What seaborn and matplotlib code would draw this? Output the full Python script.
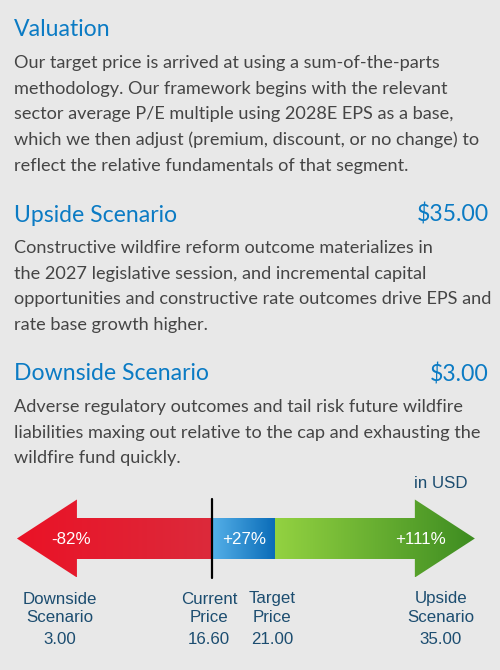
import numpy as np
import pandas as pd
import seaborn as sns
import matplotlib
matplotlib.use("Agg")
import matplotlib.pyplot as plt
from matplotlib.patches import Polygon
from matplotlib.colors import LinearSegmentedColormap

# ---------------- data ----------------
valuation_title = "Valuation"
valuation_text = [
    "Our target price is arrived at using a sum-of-the-parts",
    "methodology. Our framework begins with the relevant",
    "sector average P/E multiple using 2028E EPS as a base,",
    "which we then adjust (premium, discount, or no change) to",
    "reflect the relative fundamentals of that segment.",
]
upside_title = "Upside Scenario"
upside_value = "$35.00"
upside_text = [
    "Constructive wildfire reform outcome materializes in",
    "the 2027 legislative session, and incremental capital",
    "opportunities and constructive rate outcomes drive EPS and",
    "rate base growth higher.",
]
downside_title = "Downside Scenario"
downside_value = "$3.00"
downside_text = [
    "Adverse regulatory outcomes and tail risk future wildfire",
    "liabilities maxing out relative to the cap and exhausting the",
    "wildfire fund quickly.",
]
point_names = ["Downside\nScenario", "Current\nPrice", "Target\nPrice", "Upside\nScenario"]
point_prices = [3.00, 16.60, 21.00, 35.00]
segment_labels = ["-82%", "+27%", "+111%"]
unit_label = "in USD"

# ---------------- style ----------------
BG = "#e8e8e8"
BLUE_T = "#0b7bc4"
BODY = "#454545"
LAB = "#1c4d70"
W, H = 500, 670

sns.set_theme(style="white")
plt.rcParams['font.family'] = ['Lato', 'DejaVu Sans']

fig = plt.figure(figsize=(W / 100, H / 100), dpi=100, facecolor=BG)

# arrow axes: x in price units
px_per_usd = 14.31
offset_px = -26.0
ax = fig.add_axes([0, 0, 1, 1])
ax.set_facecolor(BG)
xl = ((0 - offset_px) / px_per_usd, (W - offset_px) / px_per_usd)

yc, shaft, head = 538.5, 20.5, 39.0
hl = 60 / px_per_usd
lo, cur, tgt, hi = point_prices

def grad_fill(poly_pts, x0, x1, c0, c1):
    patch = Polygon(poly_pts, closed=True, facecolor="none", edgecolor="none")
    ax.add_patch(patch)
    cmap = LinearSegmentedColormap.from_list("g", [c0, c1])
    g = np.linspace(0, 1, 256).reshape(1, -1)
    im = ax.imshow(g, extent=[x0, x1, yc + head, yc - head], aspect="auto",
                   cmap=cmap, zorder=2)
    im.set_clip_path(patch)

red_pts = [(lo, yc), (lo + hl, yc - head), (lo + hl, yc - shaft), (cur, yc - shaft),
           (cur, yc + shaft), (lo + hl, yc + shaft), (lo + hl, yc + head)]
blue_pts = [(cur, yc - shaft), (tgt, yc - shaft), (tgt, yc + shaft), (cur, yc + shaft)]
green_pts = [(tgt, yc - shaft), (hi - hl, yc - shaft), (hi - hl, yc - head), (hi, yc),
             (hi - hl, yc + head), (hi - hl, yc + shaft), (tgt, yc + shaft)]
grad_fill(red_pts, lo, cur, "#ea1226", "#dc2a3b")
grad_fill(blue_pts, cur, tgt, "#55b0e8", "#0a6cb8")
grad_fill(green_pts, tgt, hi, "#93d241", "#3d8c21")

line_df = pd.DataFrame({"x": [cur, cur], "y": [499, 578]})
sns.lineplot(data=line_df, x="x", y="y", ax=ax, color="black", lw=1.6,
             estimator=None, sort=False, zorder=5)

ax.set_xlim(*xl)
ax.set_ylim(H, 0)
ax.axis("off")

# text axes in pixel coordinates
tx = fig.add_axes([0, 0, 1, 1], facecolor="none")
tx.set_xlim(0, W)
tx.set_ylim(H, 0)
tx.axis("off")

LX, RX = 14, 489
TFS, BFS = 16.6, 13.05
LSP = 25.7

def section(title, ty, lines, by, value=None):
    tx.text(LX, ty, title, color=BLUE_T, fontsize=TFS, va="center", ha="left")
    if value:
        tx.text(RX, ty, value, color=BLUE_T, fontsize=TFS, va="center", ha="right")
    for i, ln in enumerate(lines):
        tx.text(LX, by + i * LSP, ln, color=BODY, fontsize=BFS, va="center", ha="left")

section(valuation_title, 30, valuation_text, 63)
section(upside_title, 215, upside_text, 248, upside_value)
section(downside_title, 374, downside_text, 407, downside_value)

LF = ['Liberation Sans', 'DejaVu Sans']
LFS = 12.2
tx.text(441, 483, unit_label, color=LAB, fontsize=LFS, va="center", ha="center", family=LF)

seg_x = [71, 244, 421]
for x, s in zip(seg_x, segment_labels):
    tx.text(x, 540, s, color="white", fontsize=LFS, va="center", ha="center", family=LF)

name_x = [60, 209, 272, 441]
for x, n, p in zip(name_x, point_names, point_prices):
    for j, part in enumerate(n.split("\n")):
        tx.text(x, 599 + j * 18, part, color=LAB, fontsize=LFS, va="center",
                ha="center", family=LF)
    tx.text(x, 639, f"{p:.2f}", color=LAB, fontsize=LFS, va="center", ha="center", family=LF)

fig.savefig("out.png", dpi=100, facecolor=BG)
